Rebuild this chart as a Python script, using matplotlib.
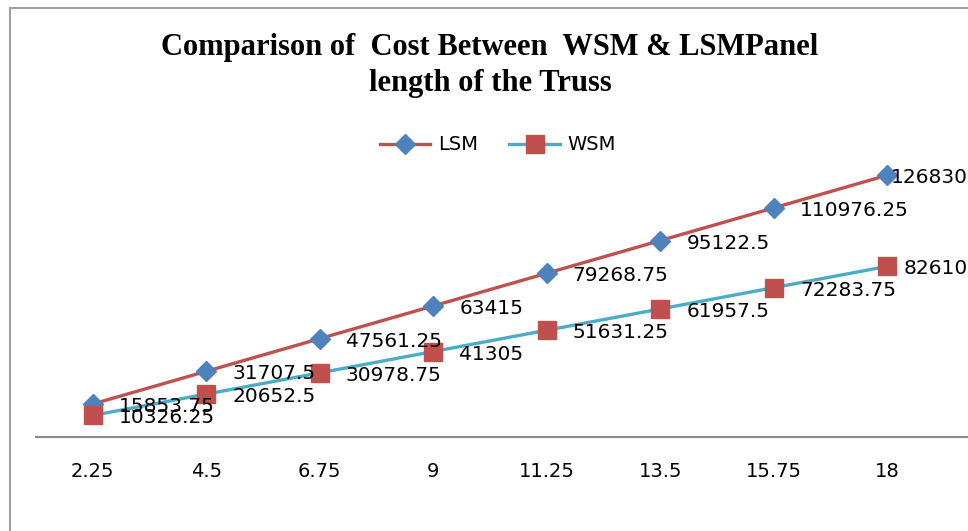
import numpy as np
import matplotlib
matplotlib.use('Agg')
import matplotlib.pyplot as plt
from matplotlib.lines import Line2D

# panel length (m) and cost values
panel = ['2.25', '4.5', '6.75', '9', '11.25', '13.5', '15.75', '18']
lsm = [15853.75, 31707.5, 47561.25, 63415, 79268.75, 95122.5, 110976.25, 126830]
wsm = [10326.25, 20652.5, 30978.75, 41305, 51631.25, 61957.5, 72283.75, 82610]

fig = plt.figure(figsize=(9.68, 5.31), dpi=100)
W, H = 968.0, 531.0

# plot area in pixels: left 36, right 968, bottom y=436.7, top y=148
ax = fig.add_axes([36/W, (H-436.7)/H, (968-36)/W, (436.7-148)/H])
x = np.arange(len(panel))

ax.plot(x, lsm, color='#C0504D', lw=2.4, marker='D', ms=10,
        mfc='#4F81BD', mec='#4F81BD', label='LSM', zorder=3)
ax.plot(x, wsm, color='#4BACC6', lw=2.4, marker='s', ms=13,
        mfc='#C0504D', mec='#C0504D', label='WSM', zorder=3)

def fmt(v):
    return ('%.2f' % v).rstrip('0').rstrip('.')

for i in range(len(x)):
    dx = 26 if i < len(x)-1 else 3
    ax.annotate(fmt(lsm[i]), (x[i], lsm[i]), xytext=(dx*0.72, -2.5*0.72),
                textcoords='offset points', ha='left', va='center',
                fontsize=14.5, color='black', zorder=4)
    dx2 = 26 if i < len(x)-1 else 16
    ax.annotate(fmt(wsm[i]), (x[i], wsm[i]), xytext=(dx2*0.72, -2.5*0.72),
                textcoords='offset points', ha='left', va='center',
                fontsize=14.5, color='black', zorder=4)

ax.set_xlim(-0.5, 7.71)
ax.set_ylim(0, 140000)
ax.set_xticks(x)
ax.set_xticklabels(panel, fontsize=14)
ax.tick_params(axis='x', length=0, pad=18)
ax.set_yticks([])
for s in ['top', 'right', 'left']:
    ax.spines[s].set_visible(False)
ax.spines['bottom'].set_color('#8C8C8C')
ax.spines['bottom'].set_linewidth(1.5)
ax.patch.set_alpha(0)

fig.text(490/W, 1-47/H, 'Comparison of  Cost Between  WSM & LSMPanel',
         ha='center', va='center', fontsize=22, fontweight='bold',
         family='Liberation Serif')
fig.text(490/W, 1-83/H, 'length of the Truss', ha='center', va='center',
         fontsize=22, fontweight='bold', family='Liberation Serif')

fig.legend(loc='center', bbox_to_anchor=(498/W, 1-145/H), ncol=2,
           frameon=False, fontsize=14, handlelength=2.6, columnspacing=1.6,
           handletextpad=0.4)

# outer chart frame (left and top edges)
fig.add_artist(Line2D([10/W, 10/W], [0, 1-8/H], color='#A0A0A0', lw=1.5))
fig.add_artist(Line2D([10/W, 1], [1-8/H, 1-8/H], color='#A0A0A0', lw=1.5))

fig.savefig('out.png', dpi=100)
